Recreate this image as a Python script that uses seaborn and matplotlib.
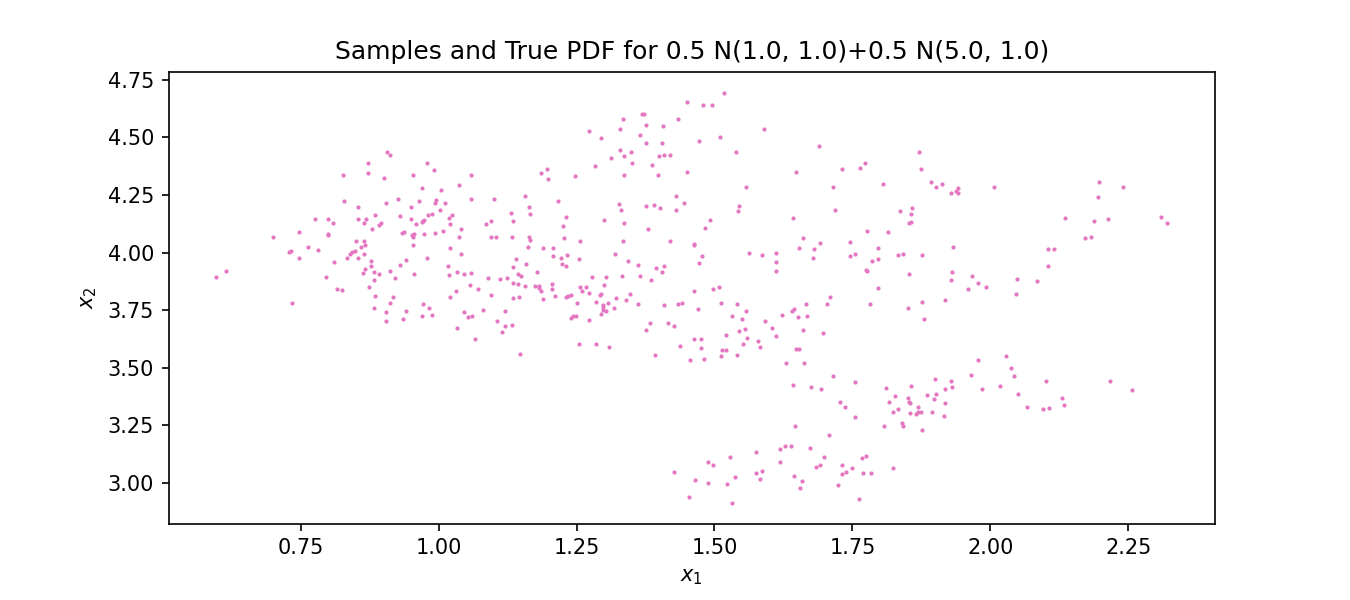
import matplotlib
matplotlib.use("Agg")
import matplotlib.pyplot as plt
import seaborn as sns
import pandas as pd

# samples
x1 = [
    # left cluster
    0.907, 0.912, 0.872, 0.979, 0.872, 0.992, 0.827, 0.901, 0.954, 1.036,
    0.969, 1.005, 0.829, 0.927, 0.965, 0.996, 0.994, 1.012, 0.905, 0.854,
    0.949, 1.003, 0.885, 0.988, 0.981, 1.025, 0.776, 0.800, 0.854, 0.869,
    0.930, 0.949, 1.019, 0.809, 0.865, 0.896, 0.891, 0.969, 0.972, 0.974,
    0.959, 1.021, 0.880, 1.041, 0.700, 0.746, 0.800, 0.800, 0.934, 0.938,
    0.952, 0.956, 0.954, 0.974, 0.994, 1.008, 1.037, 0.851, 0.865, 0.867,
    0.860, 0.764, 0.782, 0.729, 0.733, 0.849, 0.843, 0.840, 0.865, 0.954,
    1.021, 1.041, 0.746, 0.833, 0.853, 0.978, 0.941, 0.811, 0.878, 0.878,
    0.930, 1.017, 0.597, 0.615, 0.796, 0.867, 0.862, 0.883, 0.891, 0.911,
    0.956, 0.921, 1.034, 1.019, 0.883, 0.874, 0.816, 0.825, 1.032, 0.885,
    0.918, 1.021, 0.735, 0.912, 0.972, 0.883, 0.983, 0.905, 0.940, 0.988,
    0.969, 0.905, 0.936, 1.034, 1.046, 1.046,
    # middle
    1.375, 1.405, 1.472, 1.329, 1.349, 1.336, 1.313, 1.400, 1.409, 1.420,
    1.351, 1.284, 1.387, 1.059, 1.186, 1.197, 1.199, 1.248, 1.336, 1.398,
    1.451, 1.059, 1.101, 1.157, 1.217, 1.431, 1.445, 1.327, 1.331, 1.376,
    1.391, 1.402, 1.431, 1.164, 1.166, 1.132, 1.094, 1.086, 1.135, 1.231,
    1.300, 1.336, 1.492, 1.483, 1.226, 1.380, 1.095, 1.104, 1.133, 1.164,
    1.166, 1.228, 1.257, 1.335, 1.420, 1.162, 1.190, 1.208, 1.462, 1.463,
    1.320, 1.208, 1.222, 1.233, 1.255, 1.478, 1.141, 1.344, 1.472, 1.135,
    1.159, 1.224, 1.230, 1.362, 1.394, 1.409, 1.404, 1.059, 1.179, 1.144,
    1.150, 1.090, 1.112, 1.123, 1.278, 1.304, 1.333, 1.365, 1.385, 1.057,
    1.072, 1.135, 1.144, 1.157, 1.175, 1.181, 1.182, 1.206, 1.206, 1.186,
    1.257, 1.268, 1.300, 1.259, 1.273, 1.293, 1.295, 1.239, 1.235, 1.230,
    1.211, 1.095, 1.135, 1.146, 1.190, 1.322, 1.347, 1.340, 1.462, 1.498,
    1.509, 1.251, 1.286, 1.307, 1.298, 1.298, 1.317, 1.298, 1.304, 1.295,
    1.362, 1.409, 1.434, 1.442, 1.512, 1.470, 1.054, 1.061, 1.081, 1.121,
    1.106, 1.121, 1.133, 1.115, 1.240, 1.244, 1.249, 1.273, 1.384, 1.416,
    1.427, 1.376, 1.065, 1.255, 1.286, 1.309, 1.463, 1.476, 1.521, 1.438,
    1.476, 1.514, 1.521, 1.148, 1.393, 1.456, 1.481, 1.512,
    # top
    1.518, 1.451, 1.480, 1.496, 1.335, 1.369, 1.373, 1.376, 1.407, 1.434,
    1.329, 1.273, 1.295, 1.365, 1.510,
    # right upper
    1.590, 1.690, 1.539, 1.871, 1.772, 1.764, 1.732, 1.648, 1.875, 1.806,
    1.558, 1.715, 1.893, 1.902, 1.913, 1.929, 1.938, 1.942, 1.942, 2.007,
    1.545, 1.543, 1.719, 1.837, 1.858, 1.857, 1.853, 1.857, 1.643, 1.777,
    1.815, 1.661, 1.692, 1.746, 1.654, 1.681, 1.797, 1.933, 1.563, 1.587,
    1.612, 1.746, 1.755, 1.833, 1.842, 1.877, 1.679, 1.786, 1.797, 1.612,
    1.612, 1.775, 1.777, 1.853, 1.931, 1.929, 1.967, 1.978, 1.993, 1.960,
    1.797, 1.710,
    # right lower
    1.541, 1.532, 1.558, 1.550, 1.545, 1.556, 1.559, 1.552, 1.541, 1.579,
    1.583, 1.592, 1.605, 1.612, 1.623, 1.641, 1.645, 1.652, 1.666, 1.668,
    1.661, 1.704, 1.697, 1.648, 1.654, 1.630, 1.663, 1.781, 1.851, 1.877,
    1.918, 1.880, 1.715, 1.755, 1.643, 1.675, 1.693, 1.728, 1.737, 1.755,
    1.646, 1.708, 1.978, 1.965, 1.900, 1.929, 1.931, 1.985, 1.918, 1.811,
    1.857, 1.828, 1.851, 1.886, 1.902, 1.898, 1.817, 1.853, 1.855, 1.918,
    1.869, 1.833, 1.824, 1.855, 1.866, 1.869, 1.875, 1.895, 1.916, 1.840,
    1.842, 1.808, 1.877, 1.528, 1.576, 1.619, 1.628, 1.639, 1.674, 1.619,
    1.538, 1.576, 1.587, 1.583, 1.645, 1.659, 1.655, 1.532, 1.699, 1.684,
    1.692, 1.732, 1.732, 1.739, 1.750, 1.768, 1.775, 1.770, 1.784, 1.824,
    1.723, 1.762,
    # far right
    2.197, 2.241, 2.196, 2.136, 2.188, 2.214, 2.310, 2.321, 2.172, 2.183,
    2.105, 2.116, 2.105, 2.049, 2.085, 2.047, 2.029, 2.038, 2.042, 2.018,
    2.100, 2.216, 2.257, 2.051, 2.130, 2.134, 2.067, 2.096, 2.107,
    # bottom middle
    1.489, 1.498, 1.427, 1.464, 1.489, 1.523, 1.453,
]

x2 = [
    # left cluster
    4.435, 4.426, 4.387, 4.387, 4.344, 4.357, 4.335, 4.326, 4.335, 4.292,
    4.279, 4.274, 4.222, 4.235, 4.222, 4.227, 4.214, 4.214, 4.214, 4.196,
    4.196, 4.183, 4.162, 4.166, 4.162, 4.162, 4.144, 4.144, 4.144, 4.144,
    4.157, 4.144, 4.149, 4.127, 4.127, 4.127, 4.118, 4.131, 4.136, 4.140,
    4.123, 4.123, 4.101, 4.101, 4.070, 4.088, 4.079, 4.075, 4.084, 4.088,
    4.075, 4.079, 4.070, 4.079, 4.084, 4.092, 4.066, 4.049, 4.049, 4.031,
    4.023, 4.023, 4.010, 4.001, 4.005, 4.005, 4.001, 3.992, 3.992, 4.031,
    4.018, 3.992, 3.975, 3.975, 3.975, 3.975, 3.966, 3.958, 3.962, 3.940,
    3.945, 3.940, 3.893, 3.919, 3.893, 3.927, 3.910, 3.914, 3.906, 3.919,
    3.906, 3.888, 3.914, 3.901, 3.880, 3.849, 3.841, 3.836, 3.832, 3.810,
    3.806, 3.806, 3.780, 3.780, 3.775, 3.758, 3.758, 3.741, 3.745, 3.728,
    3.723, 3.702, 3.710, 3.671, 3.906, 3.741,
    # middle
    4.478, 4.474, 4.483, 4.444, 4.435, 4.418, 4.409, 4.418, 4.426, 4.426,
    4.387, 4.374, 4.379, 4.335, 4.344, 4.361, 4.318, 4.331, 4.339, 4.335,
    4.348, 4.235, 4.235, 4.248, 4.222, 4.244, 4.214, 4.209, 4.183, 4.201,
    4.205, 4.192, 4.183, 4.196, 4.166, 4.170, 4.136, 4.123, 4.136, 4.153,
    4.140, 4.127, 4.140, 4.109, 4.114, 4.101, 4.070, 4.066, 4.066, 4.066,
    4.053, 4.062, 4.049, 4.049, 4.049, 4.023, 4.018, 4.018, 4.031, 4.036,
    3.992, 3.984, 3.975, 3.988, 3.971, 3.984, 3.971, 3.962, 3.953, 3.936,
    3.949, 3.949, 3.940, 3.945, 3.932, 3.940, 3.914, 3.910, 3.914, 3.906,
    3.897, 3.888, 3.884, 3.888, 3.893, 3.893, 3.897, 3.897, 3.880, 3.858,
    3.841, 3.867, 3.862, 3.854, 3.854, 3.854, 3.845, 3.862, 3.841, 3.832,
    3.849, 3.849, 3.858, 3.832, 3.823, 3.815, 3.819, 3.815, 3.810, 3.806,
    3.810, 3.815, 3.801, 3.806, 3.797, 3.801, 3.819, 3.793, 3.832, 3.841,
    3.849, 3.780, 3.784, 3.780, 3.771, 3.762, 3.758, 3.749, 3.745, 3.732,
    3.775, 3.771, 3.775, 3.780, 3.780, 3.754, 3.719, 3.723, 3.749, 3.745,
    3.702, 3.680, 3.684, 3.654, 3.715, 3.723, 3.723, 3.706, 3.693, 3.693,
    3.680, 3.663, 3.624, 3.602, 3.602, 3.589, 3.624, 3.624, 3.641, 3.593,
    3.585, 3.576, 3.576, 3.559, 3.554, 3.533, 3.537, 3.550,
    # top
    4.695, 4.652, 4.639, 4.639, 4.578, 4.600, 4.600, 4.556, 4.548, 4.582,
    4.535, 4.526, 4.497, 4.509, 4.500,
    # right upper
    4.535, 4.465, 4.435, 4.435, 4.387, 4.366, 4.361, 4.352, 4.361, 4.296,
    4.283, 4.283, 4.305, 4.287, 4.296, 4.261, 4.266, 4.279, 4.257, 4.283,
    4.201, 4.179, 4.183, 4.179, 4.192, 4.166, 4.127, 4.131, 4.149, 4.092,
    4.088, 4.062, 4.040, 4.044, 4.018, 4.014, 4.018, 4.023, 3.997, 3.988,
    3.997, 3.984, 3.992, 3.988, 3.992, 3.988, 3.975, 3.962, 3.971, 3.958,
    3.919, 3.923, 3.919, 3.906, 3.914, 3.880, 3.897, 3.867, 3.849, 3.841,
    3.845, 3.806,
    # right lower
    3.775, 3.723, 3.745, 3.710, 3.658, 3.667, 3.628, 3.602, 3.554, 3.615,
    3.589, 3.702, 3.671, 3.637, 3.728, 3.745, 3.754, 3.719, 3.775, 3.723,
    3.663, 3.775, 3.650, 3.580, 3.580, 3.520, 3.520, 3.775, 3.758, 3.784,
    3.794, 3.710, 3.463, 3.437, 3.424, 3.415, 3.407, 3.350, 3.329, 3.285,
    3.246, 3.207, 3.533, 3.467, 3.450, 3.441, 3.415, 3.407, 3.407, 3.411,
    3.420, 3.376, 3.368, 3.381, 3.385, 3.363, 3.350, 3.350, 3.346, 3.346,
    3.329, 3.320, 3.307, 3.303, 3.298, 3.307, 3.307, 3.307, 3.290, 3.259,
    3.246, 3.246, 3.229, 3.112, 3.133, 3.146, 3.159, 3.159, 3.151, 3.090,
    3.025, 3.042, 3.051, 3.016, 3.029, 3.008, 2.977, 2.912, 3.112, 3.068,
    3.077, 3.077, 3.038, 3.047, 3.064, 3.107, 3.116, 3.042, 3.042, 3.064,
    2.990, 2.930,
    # far right
    4.305, 4.283, 4.240, 4.149, 4.136, 4.144, 4.153, 4.127, 4.062, 4.066,
    4.014, 4.014, 3.940, 3.884, 3.875, 3.819, 3.550, 3.498, 3.463, 3.420,
    3.441, 3.441, 3.402, 3.385, 3.368, 3.337, 3.329, 3.320, 3.324,
    # bottom middle
    3.089, 3.080, 3.049, 3.015, 3.001, 2.997, 2.940,
]

title = "Samples and True PDF for 0.5 N(1.0, 1.0)+0.5 N(5.0, 1.0)"

df = pd.DataFrame({"x1": x1, "x2": x2})

fig, ax = plt.subplots(figsize=(9, 4), dpi=150)
fig.subplots_adjust(left=0.125, right=0.9, top=0.88, bottom=0.127)

sns.scatterplot(data=df, x="x1", y="x2", s=4, color="#e377c2",
                linewidth=0, ax=ax)

ax.set_title(title)
ax.set_xlabel("$x_1$")
ax.set_ylabel("$x_2$")

fig.savefig("out.png", dpi=150)
